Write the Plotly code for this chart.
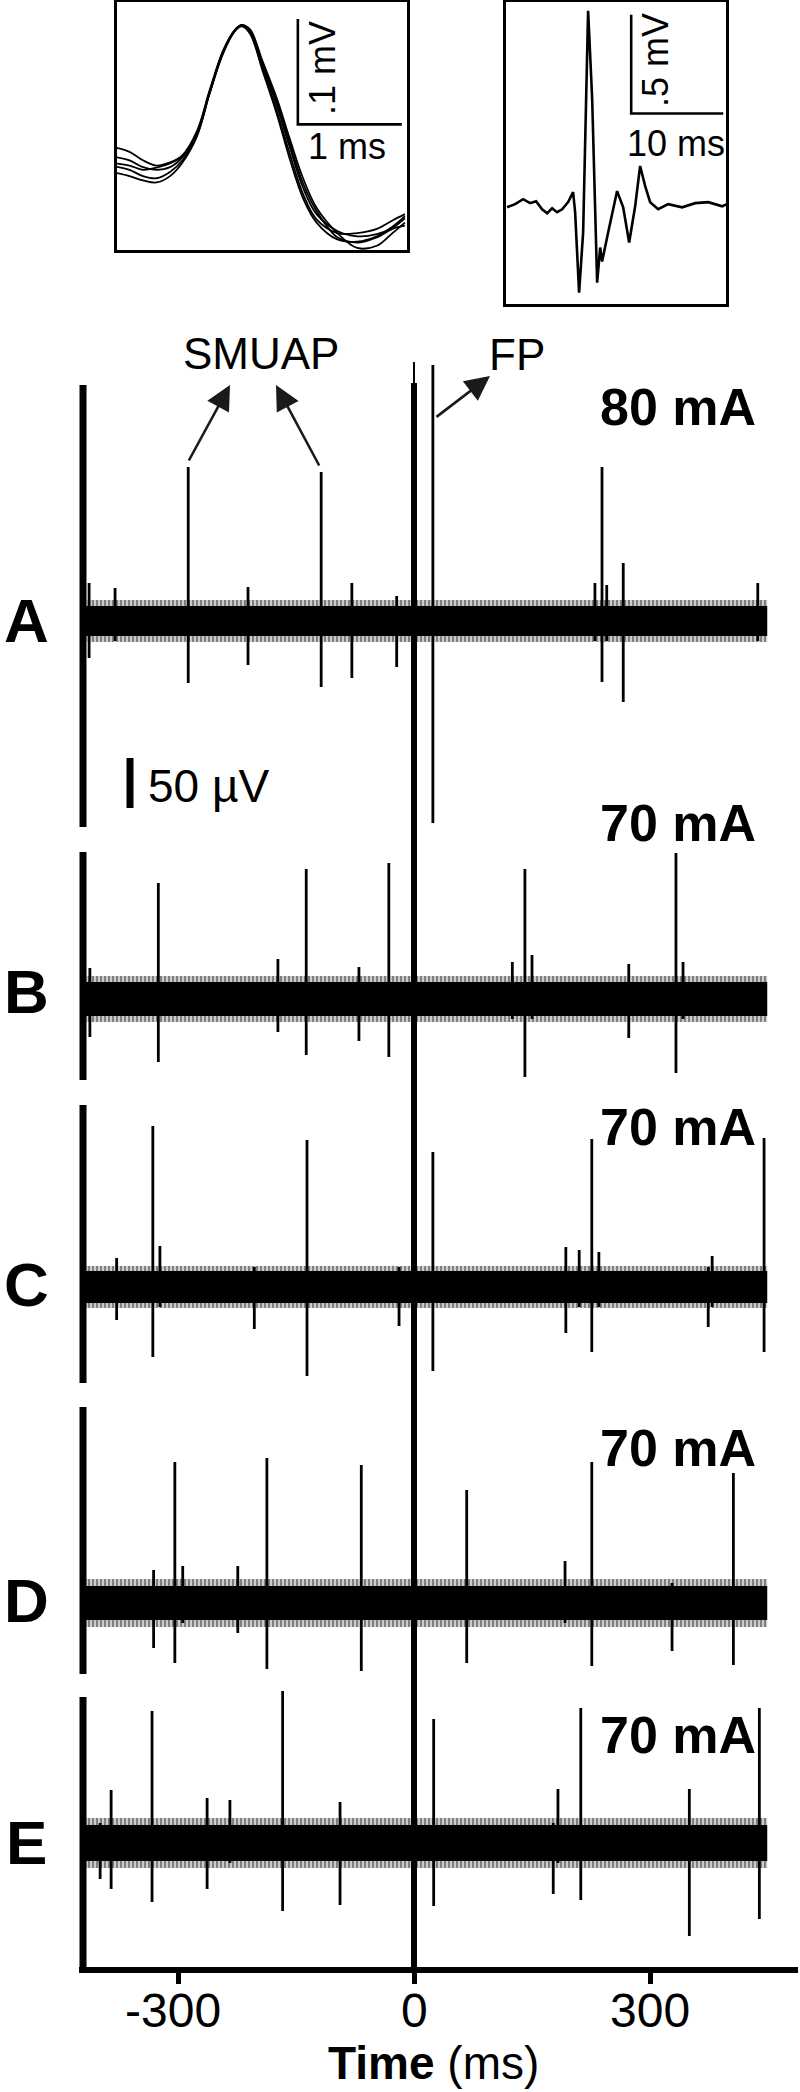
import plotly.graph_objects as go

W, H = 800, 2092
FONT = "Arial, Liberation Sans, Helvetica, sans-serif"

# ---------------- data ----------------
x_tickvals = [-300, 0, 300]
x_ticktext = ["-300", "0", "300"]

letters = ["A", "B", "C", "D", "E"]
currents = ["80 mA", "70 mA", "70 mA", "70 mA", "70 mA"]

trace_start_ms, trace_end_ms = -417, 449
noise_core_uv = [15, 17, 16, 17, 18]
noise_edge_uv = [21, 23, 21, 24, 25]

A_t = [-413, -380, -287, -211, -118, -79, -22, 24, 230, 239, 245, 266, 437]
A_up = [38, 33, 154, 34, 149, 38, 25, 256, 38, 154, 36, 58, 38]
A_dn = [-37, -20, -62, -44, -66, -57, -46, -202, -20, -61, -20, -81, -20]

B_t = [-412, -325, -173, -137, -70, -32, 125, 141, 150, 273, 333, 342]
B_up = [31, 116, 40, 130, 32, 136, 37, 130, 44, 35, 146, 37]
B_dn = [-38, -63, -33, -56, -42, -58, -20, -78, -20, -39, -74, -20]

C_t = [-378, -332, -323, -203, -136, -19, 24, 193, 210, 226, 235, 374, 379, 445]
C_up = [29, 161, 41, 20, 147, 20, 135, 40, 37, 148, 35, 20, 31, 149]
C_dn = [-33, -70, -20, -42, -89, -39, -84, -46, -20, -65, -20, -40, -20, -65]

D_t = [-331, -304, -294, -224, -187, -67, 67, 192, 226, 328, 406]
D_up = [33, 141, 37, 37, 145, 138, 113, 42, 141, 20, 130]
D_dn = [-45, -60, -20, -30, -66, -68, -60, -20, -63, -48, -62]

E_t = [-399, -385, -333, -263, -234, -167, -94, 25, 177, 183, 212, 350, 439]
E_up = [20, 53, 132, 45, 43, 152, 41, 124, 20, 54, 135, 54, 135]
E_dn = [-36, -46, -59, -46, -20, -68, -62, -63, -51, -20, -57, -93, -76]

# inset 1: superimposed SMUAPs (ms, mV)
smuap_t = [0.00, 0.13, 0.26, 0.39, 0.52, 0.64, 0.78, 0.90, 1.03, 1.14, 1.21,
           1.29, 1.41, 1.55, 1.67, 1.80, 1.93, 2.13, 2.32, 2.51, 2.66, 2.78]
smuap_1 = [0.022, 0.019, 0.0125, 0.010, 0.0125, 0.022, 0.045, 0.084, 0.122, 0.142, 0.147,
           0.141, 0.109, 0.070, 0.032, -0.007, -0.032, -0.048, -0.053, -0.051, -0.045, -0.036]
smuap_2 = [0.007, 0.004, 0.000, -0.002, 0.004, 0.017, 0.042, 0.082, 0.121, 0.142, 0.147,
           0.143, 0.113, 0.077, 0.040, 0.002, -0.026, -0.050, -0.064, -0.062, -0.050, -0.040]
smuap_3 = [0.031, 0.027, 0.019, 0.014, 0.017, 0.024, 0.047, 0.085, 0.123, 0.142, 0.147,
           0.140, 0.106, 0.065, 0.026, -0.013, -0.037, -0.050, -0.050, -0.046, -0.038, -0.032]
smuap_4 = [0.016, 0.014, 0.010, 0.012, 0.016, 0.023, 0.044, 0.083, 0.121, 0.141, 0.147,
           0.142, 0.111, 0.073, 0.036, -0.003, -0.029, -0.054, -0.059, -0.054, -0.046, -0.043]
smuap_5 = [0.013, 0.010, 0.004, 0.002, 0.008, 0.019, 0.043, 0.082, 0.120, 0.141, 0.146,
           0.139, 0.104, 0.062, 0.021, -0.017, -0.040, -0.056, -0.058, -0.053, -0.044, -0.034]

# inset 2: FP waveform (ms, mV)
fp_t = [0.22, 1.09, 1.96, 2.72, 3.37, 4.02, 4.57, 5.11, 5.65, 6.20, 6.85, 7.39, 7.61,
        8.04, 8.48, 9.02, 9.46, 10.0, 10.33, 10.54, 11.2, 12.17, 12.83, 13.48, 14.13,
        14.67, 15.22, 15.76, 16.63, 17.72, 19.24, 20.65, 22.07, 23.59, 24.13]
fp_v = [0.010, 0.026, 0.051, 0.031, 0.041, 0.0, -0.020, 0.005, -0.015, 0.0, 0.036, 0.087,
        -0.015, -0.423, -0.117, 1.005, 0.561, -0.372, -0.194, -0.265, -0.117, 0.092, 0.010,
        -0.168, 0.015, 0.219, 0.117, 0.036, 0.0, 0.026, 0.010, 0.031, 0.036, 0.015, 0.026]

# ---------------- layout helpers (pixel -> paper) ----------------
def px(x):
    return x / W


def py(y):
    return 1 - y / H


ROW_PY = [621, 999, 1287, 1603, 1843]
ROW_BASE = [H - r for r in ROW_PY]

MS_PER_PX = 300 / 236.0
ZERO_PX = 414
X_LEFT_PX, X_RIGHT_PX = 79, 798
AXIS_PY = 1967

fig = go.Figure()

series = [(A_t, A_up, A_dn), (B_t, B_up, B_dn), (C_t, C_up, C_dn),
          (D_t, D_up, D_dn), (E_t, E_up, E_dn)]

for i, (ts, ups, dns) in enumerate(series):
    b = ROW_BASE[i]
    he = noise_edge_uv[i]
    fig.add_trace(go.Scatter(
        x=[trace_start_ms, trace_end_ms, trace_end_ms, trace_start_ms, trace_start_ms],
        y=[b - he, b - he, b + he, b + he, b - he],
        fill="toself", mode="lines", line=dict(width=0, color="black"),
        fillcolor="rgba(0,0,0,0)",
        fillpattern=dict(shape="|", size=4, solidity=0.7, fgcolor="black", bgcolor="white"),
        hoverinfo="skip", xaxis="x", yaxis="y"))
    hc = noise_core_uv[i]
    fig.add_trace(go.Scatter(
        x=[trace_start_ms, trace_end_ms, trace_end_ms, trace_start_ms, trace_start_ms],
        y=[b - hc, b - hc, b + hc, b + hc, b - hc],
        fill="toself", mode="lines", line=dict(width=0, color="black"),
        fillcolor="black", hoverinfo="skip", xaxis="x", yaxis="y"))
    xs, ys = [], []
    for t, u, d in zip(ts, ups, dns):
        xs += [t, t, None]
        ys += [b + u, b + d, None]
    fig.add_trace(go.Scatter(x=xs, y=ys, mode="lines",
                             line=dict(color="black", width=2.8),
                             hoverinfo="skip", xaxis="x", yaxis="y"))

# inset 1 traces
for v in [smuap_1, smuap_2, smuap_3, smuap_4, smuap_5]:
    fig.add_trace(go.Scatter(x=smuap_t, y=v, mode="lines",
                             line=dict(color="black", width=1.8, shape="spline"),
                             hoverinfo="skip", xaxis="x2", yaxis="y2"))
fig.add_trace(go.Scatter(x=[1.75, 1.75, 2.75], y=[0.153, 0.053, 0.053], mode="lines",
                         line=dict(color="black", width=2.6), hoverinfo="skip", xaxis="x2", yaxis="y2"))

# inset 2 trace
fig.add_trace(go.Scatter(x=fp_t, y=fp_v, mode="lines", line=dict(color="black", width=2.6),
                         hoverinfo="skip", xaxis="x3", yaxis="y3"))
fig.add_trace(go.Scatter(x=[13.7, 13.7, 23.7], y=[0.985, 0.485, 0.485], mode="lines",
                         line=dict(color="black", width=2.6), hoverinfo="skip", xaxis="x3", yaxis="y3"))

x_range = [(X_LEFT_PX - ZERO_PX) * MS_PER_PX, (X_RIGHT_PX - ZERO_PX) * MS_PER_PX]

shapes = []
for top, bot in [(385, 827), (852, 1080), (1105, 1383), (1407, 1674), (1697, 1970)]:
    shapes.append(dict(type="line", xref="paper", yref="paper", x0=px(83), x1=px(83),
                       y0=py(top), y1=py(bot), line=dict(color="black", width=7)))
shapes.append(dict(type="line", xref="x", yref="paper", x0=0, x1=0,
                   y0=py(383), y1=py(1968), line=dict(color="black", width=6)))
shapes.append(dict(type="line", xref="x", yref="paper", x0=0, x1=0,
                   y0=py(362), y1=py(390), line=dict(color="black", width=2)))
shapes.append(dict(type="line", xref="paper", yref="paper", x0=px(130), x1=px(130),
                   y0=py(758), y1=py(808), line=dict(color="black", width=7)))

ann = []


def txt(text, x, y, size, bold=False, anchor="center", angle=0):
    ann.append(dict(text=("<b>%s</b>" % text) if bold else text, x=px(x), y=py(y),
                    xref="paper", yref="paper", showarrow=False, xanchor=anchor, yanchor="middle",
                    textangle=angle, font=dict(family=FONT, size=size, color="black")))


txt("SMUAP", 261, 353, 44)
txt("FP", 517, 354, 44)
for L, yy in zip(letters, [620, 991, 1284, 1600, 1842]):
    txt(L, 26, yy, 62, bold=True)
for c, yy in zip(currents, [407, 823, 1127, 1448, 1735]):
    txt(c, 678, yy, 52, bold=True)
txt("50 µV", 146, 786, 46, anchor="left")
txt(".1 mV", 322, 68, 36, angle=-90)
txt("1 ms", 347, 146, 36)
txt(".5 mV", 656, 60, 36, angle=-90)
txt("10 ms", 676, 143, 36)

for tv, tt in zip(x_tickvals, x_ticktext):
    ann.append(dict(text=tt, x=tv, y=py(2010), xref="x", yref="paper", showarrow=False,
                    xanchor="center", yanchor="middle", xshift=-5 if tt.startswith("-") else 0,
                    font=dict(family=FONT, size=48, color="black")))

ann.append(dict(text="<b>Time</b> (ms)", x=px(433), y=py(2091), xref="paper", yref="paper",
                showarrow=False, xanchor="center", yanchor="bottom",
                font=dict(family=FONT, size=46, color="black")))

for (tipx, tipy, tailx, taily) in [(230, 385, 188, 462), (276, 385, 320, 467), (490, 376, 435, 418)]:
    ann.append(dict(text="", x=px(tipx), y=py(tipy), xref="paper", yref="paper",
                    ax=tailx - tipx, ay=taily - tipy, showarrow=True, arrowhead=2,
                    arrowsize=1.9, arrowwidth=2.6, arrowcolor="#1a1a1a"))

inset_axis = dict(showline=True, mirror=True, linewidth=3, linecolor="black",
                  showticklabels=False, ticks="", showgrid=False, zeroline=False)

fig.update_layout(
    width=W, height=H, margin=dict(l=0, r=0, t=0, b=0),
    paper_bgcolor="white", plot_bgcolor="rgba(0,0,0,0)", showlegend=False,
    xaxis=dict(domain=[px(X_LEFT_PX), px(X_RIGHT_PX)], range=x_range, anchor="y",
               showline=True, linewidth=6, linecolor="black", ticks="outside",
               ticklen=11, tickwidth=5, tickcolor="black", tickvals=x_tickvals,
               showticklabels=False, showgrid=False, zeroline=False),
    yaxis=dict(domain=[py(AXIS_PY), 1], range=[H - AXIS_PY, H], visible=False, anchor="x"),
    xaxis2=dict(domain=[px(117), px(407)], range=[0.01, 2.80], anchor="y2", **inset_axis),
    yaxis2=dict(domain=[py(250), py(2)], range=[-0.066, 0.169], anchor="x2", **inset_axis),
    xaxis3=dict(domain=[px(506), px(726)], range=[0.1, 24.0], anchor="y3", **inset_axis),
    yaxis3=dict(domain=[py(304), py(2)], range=[-0.48, 1.05], anchor="x3", **inset_axis),
    shapes=shapes, annotations=ann,
)

fig.write_html("out.html", config={"displayModeBar": False},
               post_script="document.body.style.margin='0px';document.body.style.overflow='hidden';")
